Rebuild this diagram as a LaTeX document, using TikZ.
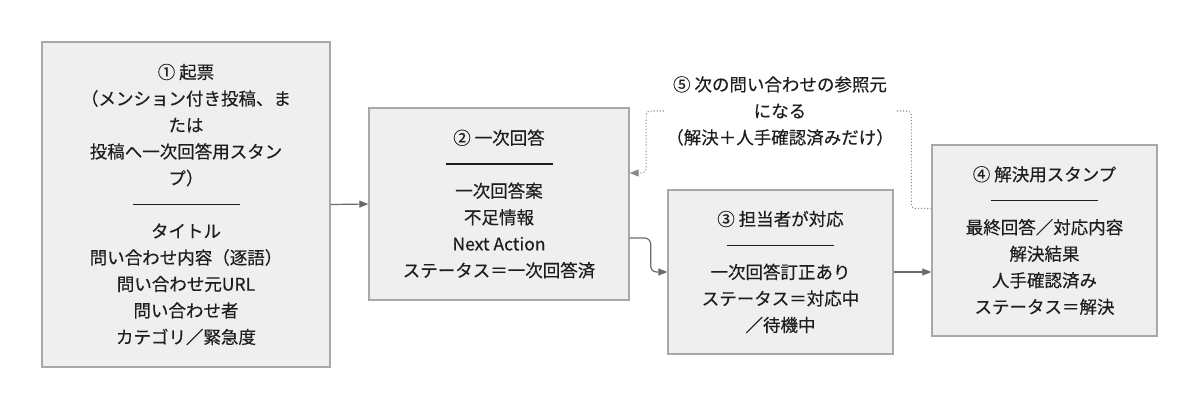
\documentclass[tikz,border=0pt]{standalone}
\usepackage{fontspec}
\setmainfont[FakeBold=0.35]{Noto Sans CJK JP}
\usetikzlibrary{arrows.meta}
\definecolor{boxfill}{HTML}{EFEFEF}
\definecolor{boxline}{HTML}{A8A8A8}
\definecolor{arr}{HTML}{6A6A6A}
\definecolor{dotc}{HTML}{8A8A8A}
\definecolor{txt}{HTML}{1E1E1E}
\newcommand{\sepline}{\rule[0.35em]{107pt}{1.4pt}}
\begin{document}
\begin{tikzpicture}[x=1pt,y=-1pt,
  every node/.style={font=\fontsize{17.5pt}{26.5pt}\selectfont, text=txt, align=center},
  stagebox/.style={draw=boxline, fill=boxfill, line width=1.3pt, inner sep=0pt},
  conn/.style={draw=arr, line width=1.2pt, -{Triangle[length=9pt,width=7pt]}},
  refconn/.style={draw=dotc, line width=1.1pt, dotted, rounded corners=4pt}
]
\useasboundingbox (0,0) rectangle (1200,410);

\node[stagebox, minimum width=288pt, minimum height=325pt] (b1) at (186,204.5)
  {① 起票\\（メンション付き投稿、ま\\たは\\投稿へ一次回答用スタン\\プ）\\\sepline\\タイトル\\問い合わせ内容（逐語）\\問い合わせ元URL\\問い合わせ者\\カテゴリ／緊急度};

\node[stagebox, minimum width=260pt, minimum height=192pt] (b2) at (499,204)
  {② 一次回答\\\sepline\\一次回答案\\不足情報\\Next Action\\ステータス＝一次回答済};

\node[stagebox, minimum width=225pt, minimum height=164pt] (b3) at (780.5,272)
  {③ 担当者が対応\\\sepline\\一次回答訂正あり\\ステータス＝対応中\\／待機中};

\node[stagebox, minimum width=225pt, minimum height=191pt] (b4) at (1044.5,240.5)
  {④ 解決用スタンプ\\\sepline\\最終回答／対応内容\\解決結果\\人手確認済み\\ステータス＝解決};

\node[inner sep=2pt] (l5) at (780,111)
  {⑤ 次の問い合わせの参照元\\になる\\（解決＋人手確認済みだけ）};

\draw[conn] (b1.east) -- (b2.west);
\draw[conn, rounded corners=6pt] ([yshift=-34pt]b2.east) -- ++(21,0) |- (b3.west);
\draw[conn] (b3.east) -- (b3.east -| b4.west);

\draw[refconn] ([yshift=32pt]b4.west) -- ++(-20,0) |- (l5.east);
\draw[refconn, -{Triangle[length=9pt,width=7pt]}] (l5.west) -- ++(-18,0) |- ([yshift=31pt]b2.east);
\end{tikzpicture}
\end{document}
